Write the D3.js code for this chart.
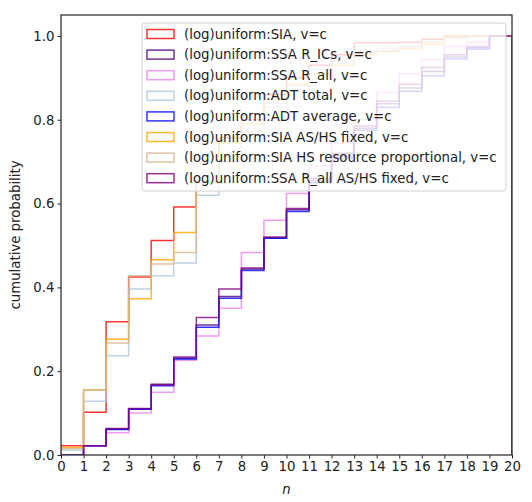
<!DOCTYPE html>
<html>
<head>
<meta charset="utf-8">
<script src="https://cdn.jsdelivr.net/npm/d3@7"></script>
<style>
  body { margin: 0; background: #fff; }
  text { font-family: "DejaVu Sans", sans-serif; }
</style>
</head>
<body>
<script>
(function() {

// bin edges 0..20, one cumulative value per bin
var binEdges = d3.range(0, 21);
var xTicks = d3.range(0, 21);
var yTicks = [0, 0.2, 0.4, 0.6, 0.8, 1.0];

var seriesNames = [
    "(log)uniform:SIA, v=c",
    "(log)uniform:SSA R_ICs, v=c",
    "(log)uniform:SSA R_all, v=c",
    "(log)uniform:ADT total, v=c",
    "(log)uniform:ADT average, v=c",
    "(log)uniform:SIA AS/HS fixed, v=c",
    "(log)uniform:SIA HS resource proportional, v=c",
    "(log)uniform:SSA R_all AS/HS fixed, v=c"
];
var seriesColors = ["red", "indigo", "violet", "lightsteelblue", "blue", "orange", "tan", "purple"];

var siaValues      = [0.022, 0.102, 0.318, 0.425, 0.512, 0.592, 0.650, 0.757, 0.800, 0.860, 0.900, 0.930, 0.955, 0.984, 0.984, 0.985, 0.992, 1.0, 1.0, 1.0];
var ssaIcsValues   = [0.0, 0.022, 0.062, 0.110, 0.169, 0.231, 0.310, 0.378, 0.444, 0.518, 0.585, 0.655, 0.715, 0.780, 0.838, 0.876, 0.915, 0.950, 0.972, 1.0];
var ssaAllValues   = [0.0, 0.022, 0.053, 0.100, 0.150, 0.226, 0.284, 0.350, 0.483, 0.560, 0.624, 0.690, 0.745, 0.800, 0.865, 0.910, 0.944, 0.975, 0.985, 1.0];
var adtTotalValues = [0.012, 0.128, 0.237, 0.396, 0.428, 0.458, 0.620, 0.700, 0.780, 0.840, 0.880, 0.920, 0.950, 0.965, 0.970, 0.975, 0.985, 0.995, 1.0, 1.0];
var adtAvgValues   = [0.0, 0.022, 0.061, 0.109, 0.165, 0.229, 0.305, 0.374, 0.440, 0.517, 0.581, 0.650, 0.710, 0.775, 0.830, 0.868, 0.905, 0.945, 0.968, 1.0];
var siaFixedValues = [0.018, 0.155, 0.276, 0.373, 0.466, 0.531, 0.652, 0.745, 0.790, 0.850, 0.884, 0.910, 0.930, 0.955, 0.963, 0.970, 0.980, 1.0, 1.0, 1.0];
var siaHsValues    = [0.015, 0.155, 0.267, 0.428, 0.456, 0.483, 0.650, 0.713, 0.770, 0.830, 0.870, 0.910, 0.940, 0.960, 0.965, 0.975, 0.985, 0.995, 1.0, 1.0];
var ssaFixedValues = [0.0, 0.022, 0.063, 0.111, 0.167, 0.234, 0.328, 0.396, 0.446, 0.520, 0.588, 0.660, 0.720, 0.785, 0.845, 0.885, 0.925, 0.955, 0.975, 1.0];

var allValues = [siaValues, ssaIcsValues, ssaAllValues, adtTotalValues, adtAvgValues, siaFixedValues, siaHsValues, ssaFixedValues];

var fontSize = "13.3px";

var margin = { top: 15, right: 20, bottom: 47, left: 61 },
    width = 532 - margin.left - margin.right,
    height = 502 - margin.top - margin.bottom;

var svg = d3.select("body").append("svg")
    .attr("width", 532)
    .attr("height", 502);

svg.append("defs").append("clipPath")
    .attr("id", "plotClip")
    .append("rect")
    .attr("width", width)
    .attr("height", height);

var g = svg.append("g")
    .attr("transform", "translate(" + margin.left + "," + margin.top + ")");

var x = d3.scaleLinear().domain([0, 20]).range([0, width]);
var y = d3.scaleLinear().domain([0, 1.05]).range([height, 0]);

// step outline like matplotlib histtype='step'
var stepPoints = function(vals) {
    var pts = [[binEdges[0], 0]];
    vals.forEach(function(v, i) {
        pts.push([binEdges[i], v]);
        pts.push([binEdges[i + 1], v]);
    });
    pts.push([binEdges[binEdges.length - 1], 0]);
    return pts;
};

var line = d3.line()
    .x(function(d) { return x(d[0]); })
    .y(function(d) { return y(d[1]); });

g.append("g")
    .attr("clip-path", "url(#plotClip)")
    .selectAll("path.hist")
    .data(allValues)
    .enter()
    .append("path")
    .attr("class", "hist")
    .attr("d", function(d) { return line(stepPoints(d)); })
    .attr("fill", "none")
    .attr("stroke", function(d, i) { return seriesColors[i]; })
    .attr("stroke-opacity", 0.8)
    .attr("stroke-width", 1.5);

// axes
var xAxis = g.append("g")
    .attr("transform", "translate(0," + height + ")")
    .call(d3.axisBottom(x).tickValues(xTicks).tickFormat(d3.format("d")).tickSize(3.5).tickPadding(3));
var yAxis = g.append("g")
    .call(d3.axisLeft(y).tickValues(yTicks).tickFormat(d3.format(".1f")).tickSize(3.5).tickPadding(3));

[xAxis, yAxis].forEach(function(ax) {
    ax.select(".domain").remove();
    ax.selectAll("text").attr("font-size", fontSize).attr("fill", "#222").style("font-family", "DejaVu Sans");
    ax.selectAll("line").attr("stroke", "#222");
});

// frame
g.append("rect")
    .attr("width", width)
    .attr("height", height)
    .attr("fill", "none")
    .attr("stroke", "#333")
    .attr("stroke-width", 1.3);

// axis labels
svg.append("text")
    .attr("x", margin.left + width / 2)
    .attr("y", 494)
    .attr("text-anchor", "middle")
    .attr("font-size", fontSize)
    .attr("font-style", "italic")
    .attr("fill", "#222")
    .text("n");

svg.append("text")
    .attr("transform", "translate(20," + (margin.top + height / 2) + ") rotate(-90)")
    .attr("text-anchor", "middle")
    .attr("font-size", fontSize)
    .attr("fill", "#222")
    .text("cumulative probability");

// legend
var legend = svg.append("g").attr("transform", "translate(142,23)");
legend.append("rect")
    .attr("width", 364)
    .attr("height", 168)
    .attr("rx", 3)
    .attr("fill", "white")
    .attr("fill-opacity", 0.8)
    .attr("stroke", "#d0d0d0");

var items = legend.selectAll("g.item")
    .data(seriesNames)
    .enter()
    .append("g")
    .attr("class", "item")
    .attr("transform", function(d, i) { return "translate(0," + (11 + i * 20.6) + ")"; });

items.append("rect")
    .attr("x", 5)
    .attr("y", -4.5)
    .attr("width", 27)
    .attr("height", 9)
    .attr("fill", "none")
    .attr("stroke", function(d, i) { return seriesColors[i]; })
    .attr("stroke-opacity", 0.8)
    .attr("stroke-width", 1.5);

items.append("text")
    .attr("x", 42)
    .attr("y", 4.5)
    .attr("font-size", fontSize)
    .attr("fill", "#222")
    .text(function(d) { return d; });

})();
</script>
</body>
</html>
